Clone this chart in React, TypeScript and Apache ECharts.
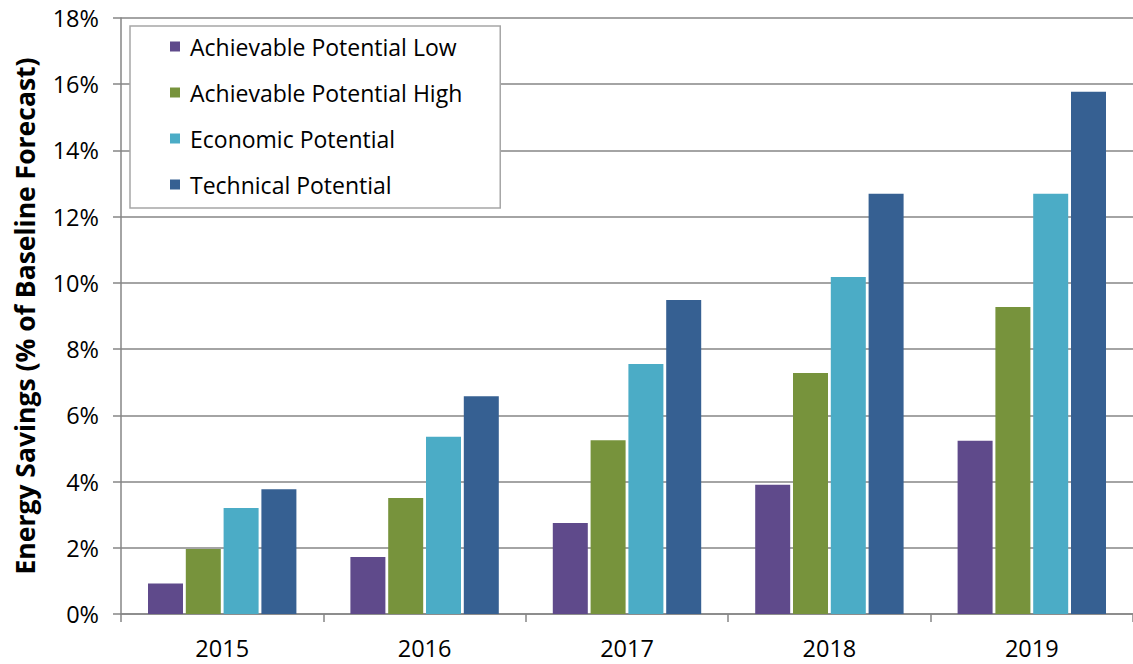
import React, { useEffect, useRef } from "react";
import * as echarts from "echarts";

const years = ["2015", "2016", "2017", "2018", "2019"];
const seriesNames = [
  "Achievable Potential Low",
  "Achievable Potential High",
  "Economic Potential",
  "Technical Potential",
];
const achievableLow = [0.92, 1.72, 2.75, 3.9, 5.23];
const achievableHigh = [1.96, 3.5, 5.25, 7.28, 9.27];
const economic = [3.2, 5.35, 7.55, 10.18, 12.69];
const technical = [3.77, 6.58, 9.48, 12.69, 15.77];
const colors = ["#5f4a8b", "#77933c", "#4bacc6", "#366092"];
const yTicks = [0, 2, 4, 6, 8, 10, 12, 14, 16, 18];

const FONT = "Open Sans";

export default function App() {
  const ref = useRef<HTMLDivElement>(null);
  useEffect(() => {
    if (!ref.current) return;
    const chart = echarts.init(ref.current, undefined, { renderer: "svg" });
    const values = [achievableLow, achievableHigh, economic, technical];
    chart.setOption({
      animation: false,
      backgroundColor: "#ffffff",
      textStyle: { fontFamily: FONT },
      legend: {
        orient: "vertical",
        left: 130,
        top: 26,
        data: seriesNames,
        icon: "rect",
        itemWidth: 10,
        itemHeight: 10,
        itemGap: 23,
        padding: [9, 38, 12, 40],
        backgroundColor: "#ffffff",
        borderColor: "#a6a6a6",
        borderWidth: 1.5,
        textStyle: {
          fontFamily: FONT,
          fontSize: 23,
          color: "#000",
          lineHeight: 23,
          padding: [0, 0, 0, 5],
        },
      },
      grid: { left: 121, top: 18, width: 1020, height: 596 },
      xAxis: {
        type: "category",
        data: years,
        axisLine: { lineStyle: { color: "#868686", width: 1.5 } },
        axisTick: { show: true, length: 8, lineStyle: { color: "#868686", width: 1.5 } },
        axisLabel: { fontFamily: FONT, fontSize: 23.5, color: "#000", margin: 22 },
      },
      yAxis: {
        type: "value",
        min: yTicks[0],
        max: yTicks[yTicks.length - 1],
        interval: 2,
        name: "Energy Savings (% of Baseline Forecast)",
        nameLocation: "middle",
        nameGap: 83,
        nameTextStyle: { fontFamily: FONT, fontSize: 26.5, fontWeight: "bold", color: "#000" },
        axisLine: { show: true, lineStyle: { color: "#868686", width: 1.5 } },
        axisTick: { show: true, length: 8, lineStyle: { color: "#868686", width: 1.5 } },
        axisLabel: {
          fontFamily: FONT,
          fontSize: 23.5,
          color: "#000",
          margin: 22,
          formatter: (v: number) => `${v}%`,
        },
        splitLine: { lineStyle: { color: "#868686", width: 1.5 } },
      },
      series: seriesNames.map((name, i) => ({
        name,
        type: "bar",
        data: values[i],
        barWidth: 35,
        barGap: "8%",
        itemStyle: { color: colors[i] },
      })),
    });
    return () => chart.dispose();
  }, []);
  return (
    <div
      ref={ref}
      style={{ position: "absolute", left: 0, top: 0, width: 1133, height: 664 }}
    />
  );
}
